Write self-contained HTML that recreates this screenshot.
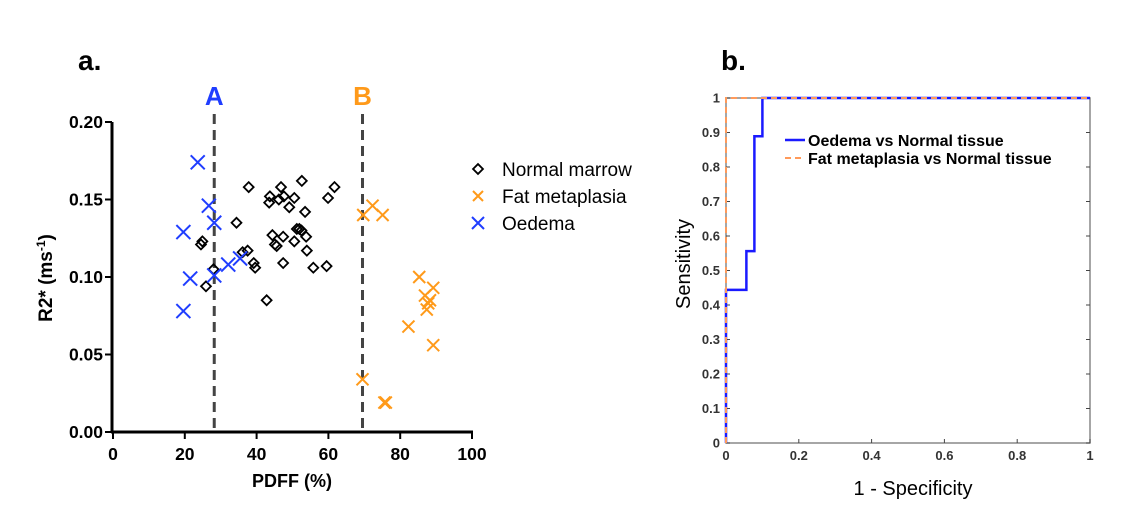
<!DOCTYPE html>
<html><head><meta charset="utf-8">
<style>
body{margin:0;background:#fff;width:1122px;height:520px;overflow:hidden;font-family:"Liberation Sans",sans-serif;}
svg{display:block}
</style></head>
<body>
<svg id="c" width="1122" height="520" xmlns="http://www.w3.org/2000/svg">
<text x="78" y="70" font-size="28" font-weight="bold">a.</text>
<text x="721" y="70" font-size="28" font-weight="bold">b.</text>
<g id="ga"></g>
<g id="gb"></g>
</svg>
<script>
const NS='http://www.w3.org/2000/svg';
// Panel a data
const normalX=[24.9,24.5,28.0,25.9,34.4,37.8,36.1,37.5,39.2,39.6,42.8,43.7,43.5,44.4,45.1,45.6,46.8,46.2,47.6,49.1,50.5,47.4,47.4,52.6,51.2,51.9,52.5,50.5,53.5,53.8,54.0,55.8,59.9,61.7,59.5];
const normalY=[0.123,0.121,0.105,0.094,0.135,0.158,0.116,0.117,0.109,0.106,0.085,0.152,0.148,0.127,0.121,0.120,0.158,0.150,0.152,0.145,0.151,0.126,0.109,0.162,0.131,0.131,0.130,0.123,0.142,0.126,0.117,0.106,0.151,0.158,0.107];
const fatX=[69.7,72.3,75.1,69.5,75.6,76.0,85.3,86.9,87.8,87.4,89.2,82.3,89.2,88.3];
const fatY=[0.140,0.146,0.140,0.034,0.019,0.019,0.100,0.088,0.083,0.079,0.093,0.068,0.056,0.085];
const oedX=[23.6,26.7,28.2,19.6,21.5,19.6,28.2,32.1,35.4];
const oedY=[0.174,0.146,0.135,0.129,0.099,0.078,0.101,0.108,0.112];
const thresholds=[28.2,69.5];
const thresholdLabels=['A','B'];
const xTicksA=[0,20,40,60,80,100];
const yTicksA=[0,0.05,0.10,0.15,0.20];
// Panel b data
const oedRocX=[0,0,0.056,0.056,0.078,0.078,0.1,0.1,1];
const oedRocY=[0,0.444,0.444,0.556,0.556,0.889,0.889,1,1];
const fatRocX=[0,0,1];
const fatRocY=[0,1,1];
const xTicksB=[0,0.2,0.4,0.6,0.8,1];
const yTicksB=[0,0.1,0.2,0.3,0.4,0.5,0.6,0.7,0.8,0.9,1];

function mk(tag,attrs,parent,txt){const e=document.createElementNS(NS,tag);for(const k in attrs)e.setAttribute(k,attrs[k]);if(txt!==undefined)e.textContent=txt;parent.appendChild(e);return e;}
const ga=document.getElementById('ga'), gb=document.getElementById('gb');
const ax=v=>113+v*3.59, ay=v=>432-v*1550;
const BLUE='#1f3dff', ORANGE='#ff9a1a';

// axes a
let e=mk('line',{x1:112,y1:ay(0.2),x2:112,y2:433,stroke:'#000','stroke-width':3},ga);

e=mk('line',{x1:111,y1:432,x2:473,y2:432,stroke:'#000','stroke-width':3},ga);

yTicksA.forEach(v=>{
 mk('line',{x1:105,y1:ay(v),x2:112,y2:ay(v),stroke:'#000','stroke-width':2},ga);
 e=mk('text',{x:103,y:ay(v)+6,'text-anchor':'end','font-size':17.5,'font-weight':'bold'},ga,v.toFixed(2));
 
});
xTicksA.forEach(v=>{
 mk('line',{x1:ax(v),y1:432,x2:ax(v),y2:439,stroke:'#000','stroke-width':2},ga);
 e=mk('text',{x:ax(v),y:460,'text-anchor':'middle','font-size':17.5,'font-weight':'bold'},ga,String(v));
 
});
e=mk('text',{x:292,y:487,'text-anchor':'middle','font-size':18,'font-weight':'bold'},ga,'PDFF (%)');

e=mk('text',{transform:'translate(52,278) rotate(-90)','text-anchor':'middle','font-size':19,'font-weight':'bold'},ga);
e.innerHTML='R2* (ms<tspan font-size="12" dy="-7">-1</tspan><tspan dy="7">)</tspan>';

thresholds.forEach((t,i)=>{
 e=mk('line',{x1:ax(t),y1:114,x2:ax(t),y2:432,stroke:'#444','stroke-width':3,'stroke-dasharray':'10,6'},ga);
 
 e=mk('text',{x:ax(t),y:105,'text-anchor':'middle','font-size':26,'font-weight':'bold',fill:i?ORANGE:BLUE},ga,thresholdLabels[i]);
 
});
function diamond(x,y,p){return mk('rect',{x:x-3.5,y:y-3.5,width:7,height:7,transform:`rotate(45 ${x} ${y})`,fill:'none',stroke:'#000','stroke-width':1.8},p);}
function cross(x,y,c,s,p){return mk('path',{d:`M${x-s} ${y-s}L${x+s} ${y+s}M${x-s} ${y+s}L${x+s} ${y-s}`,stroke:c,'stroke-width':2,fill:'none'},p);}
normalX.forEach((v,i)=>{e=diamond(ax(v),ay(normalY[i]),ga);});
fatX.forEach((v,i)=>{e=cross(ax(v),ay(fatY[i]),ORANGE,6,ga);});
oedX.forEach((v,i)=>{e=cross(ax(v),ay(oedY[i]),BLUE,7,ga);});
// legend a
e=diamond(478,169,ga);
e=cross(478,196,ORANGE,5,ga);
e=cross(478,223,BLUE,6,ga);
[['Normal marrow',176],['Fat metaplasia',203],['Oedema',230]].forEach(a=>{
 e=mk('text',{x:502,y:a[1],'font-size':19},ga,a[0]);
 
});

// panel b
const bx=v=>726+v*364, by=v=>443-v*345;
e=mk('rect',{x:726,y:98,width:364,height:345,fill:'none',stroke:'#888','stroke-width':1.5},gb);

yTicksB.forEach(v=>{
 mk('line',{x1:726,y1:by(v),x2:730,y2:by(v),stroke:'#444'},gb);
 mk('line',{x1:1086,y1:by(v),x2:1090,y2:by(v),stroke:'#444'},gb);
 e=mk('text',{x:720,y:by(v)+4.5,'text-anchor':'end','font-size':13,'font-weight':'bold',fill:'#333'},gb,String(v));
 
});
xTicksB.forEach(v=>{
 mk('line',{x1:bx(v),y1:443,x2:bx(v),y2:439,stroke:'#444'},gb);
 e=mk('text',{x:bx(v),y:460,'text-anchor':'middle','font-size':13,'font-weight':'bold',fill:'#333'},gb,String(v));
 
});
e=mk('text',{x:913,y:495,'text-anchor':'middle','font-size':20},gb,'1 - Specificity');

e=mk('text',{transform:'translate(690,264) rotate(-90)','text-anchor':'middle','font-size':20},gb,'Sensitivity');

const pts=(X,Y)=>X.map((v,i)=>bx(v)+','+by(Y[i])).join(' ');
e=mk('polyline',{points:pts(oedRocX,oedRocY),fill:'none',stroke:'#1a1aff','stroke-width':2.5},gb);

e=mk('polyline',{points:pts(fatRocX,fatRocY),fill:'none',stroke:'#ff9a5a','stroke-width':2,'stroke-dasharray':'6,4'},gb);

e=mk('line',{x1:785,y1:140,x2:805,y2:140,stroke:'#1a1aff','stroke-width':2.5},gb);

e=mk('line',{x1:785,y1:158,x2:805,y2:158,stroke:'#ff9a5a','stroke-width':2,'stroke-dasharray':'6,4'},gb);

e=mk('text',{x:808,y:146,'font-size':16,'font-weight':'bold'},gb,'Oedema vs Normal tissue');

e=mk('text',{x:808,y:164,'font-size':16,'font-weight':'bold'},gb,'Fat metaplasia vs Normal tissue');

</script>
</body></html>
